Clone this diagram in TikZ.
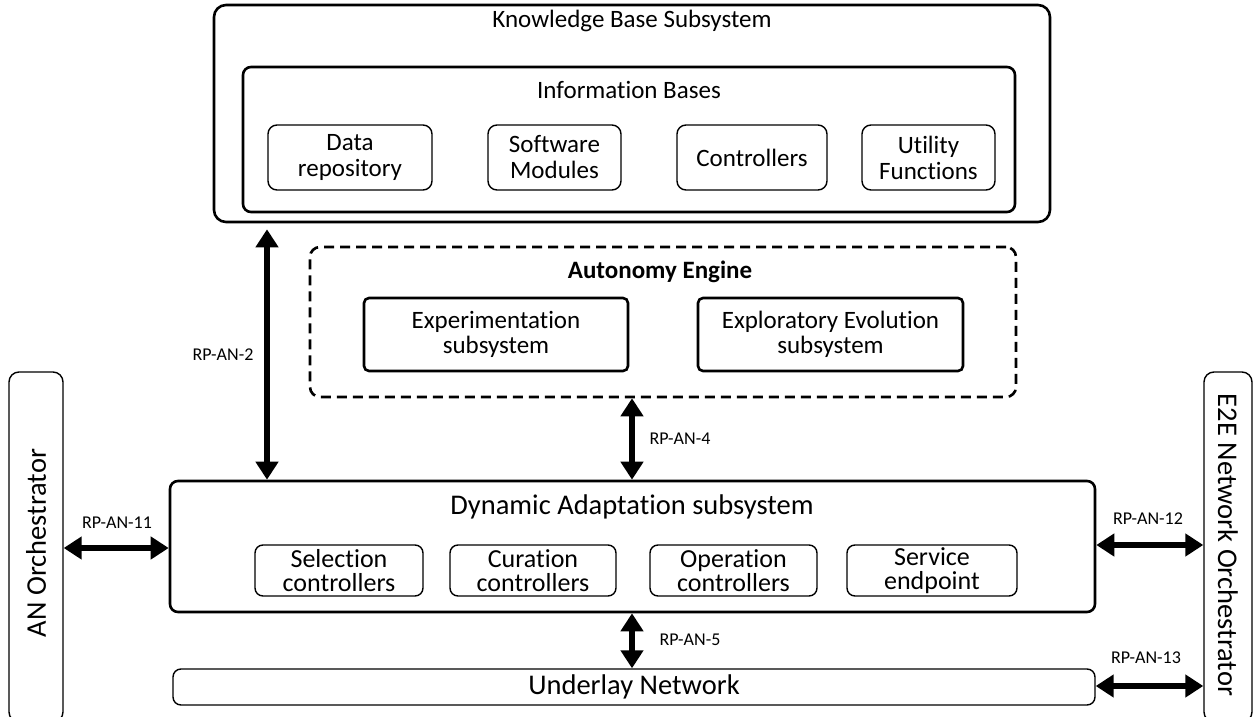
\documentclass[tikz,border=0pt]{standalone}
\usepackage{fontspec}
\setmainfont{Carlito}[Ligatures=NoCommon]
\usetikzlibrary{arrows.meta}
\begin{document}
\begin{tikzpicture}[x=1pt,y=-1pt,
  heavybox/.style={draw, line width=2.6pt, rounded corners=10pt, inner sep=0pt},
  framebox/.style={draw, line width=2.6pt, rounded corners=5pt, inner sep=0pt, align=center,
    font=\fontsize{25}{25}\selectfont},
  lightbox/.style={draw, line width=1.4pt, rounded corners=9pt, inner sep=0pt, align=center,
    font=\fontsize{25}{26}\selectfont},
  dabox/.style={draw, line width=1.4pt, rounded corners=8pt, inner sep=0pt, align=center,
    font=\fontsize{26}{24}\selectfont},
  engine/.style={draw, line width=2.6pt, dash pattern=on 10pt off 6pt, rounded corners=10pt, inner sep=0pt},
  title/.style={inner sep=0pt, font=\fontsize{25}{25}\selectfont},
  bigtitle/.style={inner sep=0pt, font=\fontsize{28.5}{28}\selectfont},
  portlbl/.style={inner sep=0pt, font=\fontsize{18}{18}\selectfont},
  link/.style={line width=6pt, {Triangle[length=18pt,width=22pt]}-{Triangle[length=18pt,width=22pt]}}
]
\useasboundingbox (0,0) rectangle (1254,717);

% Knowledge base subsystem with its information bases
\node[heavybox, rounded corners=12pt, minimum width=836pt, minimum height=217pt] (kb) at (632,113.5) {};
\node[title] (kbt) at (632,21) {Knowledge Base Subsystem};
\node[heavybox, rounded corners=8pt, minimum width=772pt, minimum height=145pt] (ib) at (629,139.5) {};
\node[title] (ibt) at (629,90) {Information Bases};
\node[lightbox, minimum width=164pt, minimum height=65pt] (repo) at (350,157.5) {Data\\repository};
\node[lightbox, minimum width=133pt, minimum height=65pt] (soft) at (554.5,157.5) {Software\\Modules};
\node[lightbox, minimum width=150pt, minimum height=65pt] (ctrl) at (752,157.5) {Controllers};
\node[lightbox, minimum width=133pt, minimum height=65pt] (util) at (928.5,157.5) {Utility\\Functions};

% Autonomy engine
\node[engine, minimum width=706pt, minimum height=150pt] (ae) at (663,322) {};
\node[title, font=\fontsize{25}{25}\selectfont\bfseries] (aet) at (660,272) {Autonomy Engine};
\node[framebox, minimum width=264pt, minimum height=73pt] (exp) at (496,334.5) {Experimentation\\subsystem};
\node[framebox, minimum width=265pt, minimum height=73pt] (evo) at (830.5,334.5) {Exploratory Evolution\\subsystem};

% Dynamic adaptation subsystem
\node[heavybox, rounded corners=8pt, minimum width=925pt, minimum height=131pt] (da) at (632.5,546.5) {};
\node[bigtitle] (dat) at (632,507) {Dynamic Adaptation subsystem};
\node[dabox, minimum width=168pt, minimum height=51pt] (sel) at (339,570.5) {Selection\\controllers};
\node[dabox, minimum width=166pt, minimum height=51pt] (cur) at (533,570.5) {Curation\\controllers};
\node[dabox, minimum width=167pt, minimum height=51pt] (op) at (733.5,570.5) {Operation\\controllers};
\node[dabox, minimum width=170pt, minimum height=51pt] (svc) at (932,570.5) {Service\\endpoint};

% Underlay network
\node[lightbox, rounded corners=8pt, minimum width=922pt, minimum height=36pt,
  font=\fontsize{28.5}{28}\selectfont] (ul) at (634,687) {Underlay Network};

% Orchestrators on both sides
\node[lightbox, rounded corners=10pt, minimum width=54pt, minimum height=350pt] (an) at (36,547) {};
\node[bigtitle, rotate=90] (ant) at (36,543) {AN Orchestrator};
\node[lightbox, rounded corners=10pt, minimum width=48pt, minimum height=350pt] (e2e) at (1228,547) {};
\node[bigtitle, rotate=-90] (e2et) at (1228,545) {E2E Network Orchestrator};

% Reference points
\draw[link, shorten <=6pt] (kb.south -| 267,0) -- (da.north -| 267,0);
\node[portlbl] (rp2) at (223,355) {RP-AN-2};
\draw[link] (ae.south -| 632,0) -- (da.north -| 632,0);
\node[portlbl] (rp4) at (680,439) {RP-AN-4};
\draw[link] (da.south -| 632,0) -- (ul.north -| 632,0);
\node[portlbl] (rp5) at (690,640) {RP-AN-5};
\draw[link] (an.east |- 0,548) -- (da.west |- 0,548);
\node[portlbl] (rp11) at (117,523) {RP-AN-11};
\draw[link] (da.east |- 0,545) -- (e2e.west |- 0,545);
\node[portlbl] (rp12) at (1148,519) {RP-AN-12};
\draw[link] (ul.east |- 0,686) -- (e2e.west |- 0,686);
\node[portlbl] (rp13) at (1146,658) {RP-AN-13};
\end{tikzpicture}
\end{document}
